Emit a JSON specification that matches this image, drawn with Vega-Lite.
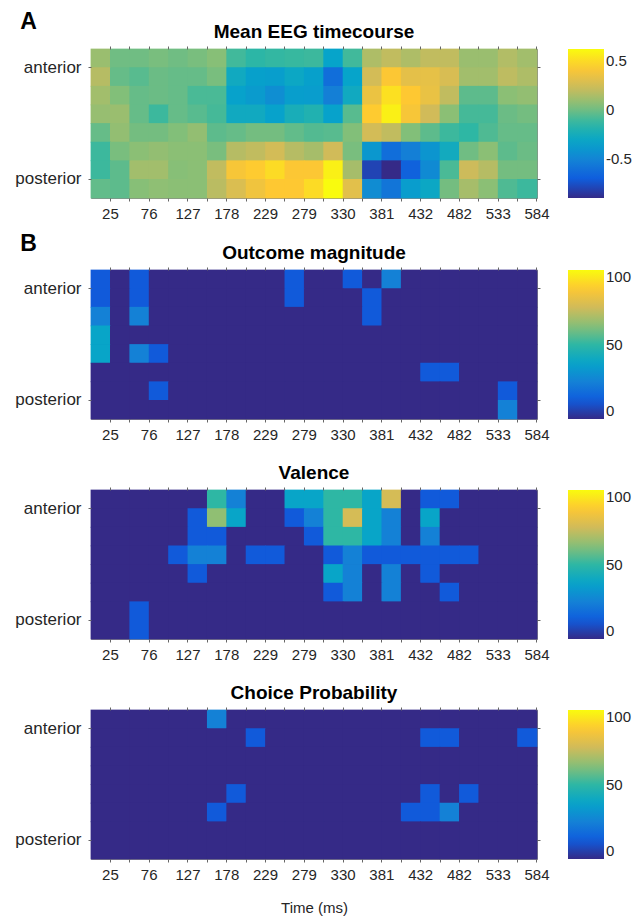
{
"$schema": "https://vega.github.io/schema/vega-lite/v6.json",
"padding": {"left": 14, "top": 11, "right": 5, "bottom": 2},
"config": {
  "font": "Liberation Sans",
  "view": {"stroke": "#8a8a8a", "strokeWidth": 1},
  "axis": {"domain": false, "tickColor": "#666666", "tickSize": 3, "labelFontSize": 15, "labelColor": "#262626", "labelPadding": 5, "labelOverlap": false, "titleFontSize": 15, "titleFontWeight": "normal", "titleColor": "#262626"},
  "axisX": {"labelOffset": 9.7},
  "axisY": {"labelFontSize": 17, "labelPadding": 7, "labelOffset": 9.3},
  "title": {"fontSize": 19, "fontWeight": "bold", "color": "#000000", "offset": 4},
  "legend": {"gradientLength": 149, "gradientThickness": 36, "labelFontSize": 15, "labelColor": "#262626", "gradientStrokeColor": "#8a8a8a", "offset": 27, "labelOffset": 6}
},
"datasets": {"cells": [
{"r":1,"t":25,"a":0.10,"om":12,"va":0,"cp":0},{"r":1,"t":50,"a":0.00,"om":0,"va":0,"cp":0},{"r":1,"t":76,"a":0.00,"om":12,"va":0,"cp":0},{"r":1,"t":101,"a":0.02,"om":0,"va":0,"cp":0},{"r":1,"t":127,"a":0.00,"om":0,"va":0,"cp":0},{"r":1,"t":152,"a":0.02,"om":0,"va":0,"cp":0},{"r":1,"t":178,"a":0.05,"om":0,"va":50,"cp":25},{"r":1,"t":203,"a":-0.10,"om":0,"va":25,"cp":0},{"r":1,"t":229,"a":-0.15,"om":0,"va":0,"cp":0},{"r":1,"t":254,"a":-0.13,"om":0,"va":0,"cp":0},{"r":1,"t":279,"a":-0.12,"om":12,"va":38,"cp":0},{"r":1,"t":305,"a":-0.11,"om":0,"va":38,"cp":0},{"r":1,"t":330,"a":-0.33,"om":0,"va":50,"cp":0},{"r":1,"t":355,"a":-0.10,"om":12,"va":50,"cp":0},{"r":1,"t":381,"a":0.15,"om":0,"va":38,"cp":0},{"r":1,"t":406,"a":0.20,"om":25,"va":76,"cp":0},{"r":1,"t":432,"a":0.15,"om":0,"va":0,"cp":0},{"r":1,"t":457,"a":0.20,"om":0,"va":12,"cp":0},{"r":1,"t":482,"a":0.20,"om":0,"va":12,"cp":0},{"r":1,"t":508,"a":0.10,"om":0,"va":0,"cp":0},{"r":1,"t":533,"a":0.10,"om":0,"va":0,"cp":0},{"r":1,"t":559,"a":0.16,"om":0,"va":0,"cp":0},{"r":1,"t":584,"a":0.12,"om":0,"va":0,"cp":0},
{"r":2,"t":25,"a":0.17,"om":12,"va":0,"cp":0},{"r":2,"t":50,"a":-0.02,"om":0,"va":0,"cp":0},{"r":2,"t":76,"a":-0.05,"om":12,"va":0,"cp":0},{"r":2,"t":101,"a":-0.01,"om":0,"va":0,"cp":0},{"r":2,"t":127,"a":-0.02,"om":0,"va":0,"cp":0},{"r":2,"t":152,"a":-0.02,"om":0,"va":12,"cp":0},{"r":2,"t":178,"a":0.02,"om":0,"va":64,"cp":0},{"r":2,"t":203,"a":-0.28,"om":0,"va":38,"cp":0},{"r":2,"t":229,"a":-0.35,"om":0,"va":0,"cp":12},{"r":2,"t":254,"a":-0.36,"om":0,"va":0,"cp":0},{"r":2,"t":279,"a":-0.30,"om":12,"va":12,"cp":0},{"r":2,"t":305,"a":-0.35,"om":0,"va":25,"cp":0},{"r":2,"t":330,"a":-0.62,"om":0,"va":50,"cp":0},{"r":2,"t":355,"a":-0.33,"om":0,"va":76,"cp":0},{"r":2,"t":381,"a":0.25,"om":12,"va":38,"cp":0},{"r":2,"t":406,"a":0.42,"om":0,"va":25,"cp":0},{"r":2,"t":432,"a":0.32,"om":0,"va":0,"cp":0},{"r":2,"t":457,"a":0.33,"om":0,"va":38,"cp":12},{"r":2,"t":482,"a":0.27,"om":0,"va":0,"cp":12},{"r":2,"t":508,"a":0.12,"om":0,"va":0,"cp":0},{"r":2,"t":533,"a":0.12,"om":0,"va":0,"cp":0},{"r":2,"t":559,"a":0.19,"om":0,"va":0,"cp":0},{"r":2,"t":584,"a":0.15,"om":0,"va":0,"cp":12},
{"r":3,"t":25,"a":0.12,"om":25,"va":0,"cp":0},{"r":3,"t":50,"a":0.04,"om":0,"va":0,"cp":0},{"r":3,"t":76,"a":-0.02,"om":25,"va":0,"cp":0},{"r":3,"t":101,"a":-0.01,"om":0,"va":0,"cp":0},{"r":3,"t":127,"a":-0.02,"om":0,"va":0,"cp":0},{"r":3,"t":152,"a":-0.08,"om":0,"va":12,"cp":0},{"r":3,"t":178,"a":-0.08,"om":0,"va":12,"cp":0},{"r":3,"t":203,"a":-0.34,"om":0,"va":0,"cp":0},{"r":3,"t":229,"a":-0.38,"om":0,"va":0,"cp":0},{"r":3,"t":254,"a":-0.45,"om":0,"va":0,"cp":0},{"r":3,"t":279,"a":-0.36,"om":0,"va":0,"cp":0},{"r":3,"t":305,"a":-0.37,"om":0,"va":12,"cp":0},{"r":3,"t":330,"a":-0.53,"om":0,"va":50,"cp":0},{"r":3,"t":355,"a":-0.28,"om":0,"va":50,"cp":0},{"r":3,"t":381,"a":0.35,"om":12,"va":38,"cp":0},{"r":3,"t":406,"a":0.52,"om":0,"va":25,"cp":0},{"r":3,"t":432,"a":0.43,"om":0,"va":0,"cp":0},{"r":3,"t":457,"a":0.34,"om":0,"va":25,"cp":0},{"r":3,"t":482,"a":0.20,"om":0,"va":0,"cp":0},{"r":3,"t":508,"a":-0.04,"om":0,"va":0,"cp":0},{"r":3,"t":533,"a":-0.04,"om":0,"va":0,"cp":0},{"r":3,"t":559,"a":0.06,"om":0,"va":0,"cp":0},{"r":3,"t":584,"a":0.08,"om":0,"va":0,"cp":0},
{"r":4,"t":25,"a":0.09,"om":38,"va":0,"cp":0},{"r":4,"t":50,"a":0.10,"om":0,"va":0,"cp":0},{"r":4,"t":76,"a":-0.02,"om":0,"va":0,"cp":0},{"r":4,"t":101,"a":-0.11,"om":0,"va":0,"cp":0},{"r":4,"t":127,"a":-0.02,"om":0,"va":12,"cp":0},{"r":4,"t":152,"a":-0.05,"om":0,"va":25,"cp":0},{"r":4,"t":178,"a":-0.09,"om":0,"va":25,"cp":0},{"r":4,"t":203,"a":-0.28,"om":0,"va":0,"cp":0},{"r":4,"t":229,"a":-0.28,"om":0,"va":12,"cp":0},{"r":4,"t":254,"a":-0.34,"om":0,"va":12,"cp":0},{"r":4,"t":279,"a":-0.24,"om":0,"va":0,"cp":0},{"r":4,"t":305,"a":-0.20,"om":0,"va":0,"cp":0},{"r":4,"t":330,"a":-0.34,"om":0,"va":12,"cp":0},{"r":4,"t":355,"a":-0.05,"om":0,"va":25,"cp":0},{"r":4,"t":381,"a":0.44,"om":0,"va":12,"cp":0},{"r":4,"t":406,"a":0.58,"om":0,"va":12,"cp":0},{"r":4,"t":432,"a":0.40,"om":0,"va":12,"cp":0},{"r":4,"t":457,"a":0.24,"om":0,"va":12,"cp":0},{"r":4,"t":482,"a":0.06,"om":0,"va":12,"cp":0},{"r":4,"t":508,"a":-0.09,"om":0,"va":12,"cp":0},{"r":4,"t":533,"a":-0.09,"om":0,"va":0,"cp":0},{"r":4,"t":559,"a":-0.01,"om":0,"va":0,"cp":0},{"r":4,"t":584,"a":0.01,"om":0,"va":0,"cp":0},
{"r":5,"t":25,"a":-0.02,"om":38,"va":0,"cp":0},{"r":5,"t":50,"a":0.08,"om":0,"va":0,"cp":0},{"r":5,"t":76,"a":0.01,"om":25,"va":0,"cp":0},{"r":5,"t":101,"a":0.01,"om":12,"va":0,"cp":0},{"r":5,"t":127,"a":0.04,"om":0,"va":0,"cp":0},{"r":5,"t":152,"a":0.08,"om":0,"va":12,"cp":0},{"r":5,"t":178,"a":-0.04,"om":0,"va":0,"cp":0},{"r":5,"t":203,"a":-0.02,"om":0,"va":0,"cp":12},{"r":5,"t":229,"a":0.01,"om":0,"va":0,"cp":0},{"r":5,"t":254,"a":0.01,"om":0,"va":0,"cp":0},{"r":5,"t":279,"a":-0.03,"om":0,"va":0,"cp":0},{"r":5,"t":305,"a":-0.06,"om":0,"va":0,"cp":0},{"r":5,"t":330,"a":-0.05,"om":0,"va":38,"cp":0},{"r":5,"t":355,"a":0.04,"om":0,"va":25,"cp":0},{"r":5,"t":381,"a":0.25,"om":0,"va":0,"cp":0},{"r":5,"t":406,"a":0.20,"om":0,"va":25,"cp":0},{"r":5,"t":432,"a":0.04,"om":0,"va":0,"cp":0},{"r":5,"t":457,"a":-0.04,"om":0,"va":12,"cp":12},{"r":5,"t":482,"a":-0.11,"om":0,"va":0,"cp":0},{"r":5,"t":508,"a":-0.14,"om":0,"va":0,"cp":12},{"r":5,"t":533,"a":-0.07,"om":0,"va":0,"cp":0},{"r":5,"t":559,"a":-0.02,"om":0,"va":0,"cp":0},{"r":5,"t":584,"a":-0.02,"om":0,"va":0,"cp":0},
{"r":6,"t":25,"a":-0.11,"om":0,"va":0,"cp":0},{"r":6,"t":50,"a":0.02,"om":0,"va":0,"cp":0},{"r":6,"t":76,"a":0.06,"om":0,"va":0,"cp":0},{"r":6,"t":101,"a":0.08,"om":0,"va":0,"cp":0},{"r":6,"t":127,"a":0.06,"om":0,"va":0,"cp":0},{"r":6,"t":152,"a":0.06,"om":0,"va":0,"cp":0},{"r":6,"t":178,"a":0.02,"om":0,"va":0,"cp":12},{"r":6,"t":203,"a":0.17,"om":0,"va":0,"cp":0},{"r":6,"t":229,"a":0.20,"om":0,"va":0,"cp":0},{"r":6,"t":254,"a":0.25,"om":0,"va":0,"cp":0},{"r":6,"t":279,"a":0.17,"om":0,"va":0,"cp":0},{"r":6,"t":305,"a":0.13,"om":0,"va":0,"cp":0},{"r":6,"t":330,"a":0.24,"om":0,"va":12,"cp":0},{"r":6,"t":355,"a":0.02,"om":0,"va":25,"cp":0},{"r":6,"t":381,"a":-0.40,"om":0,"va":0,"cp":0},{"r":6,"t":406,"a":-0.62,"om":0,"va":25,"cp":0},{"r":6,"t":432,"a":-0.53,"om":0,"va":0,"cp":12},{"r":6,"t":457,"a":-0.41,"om":12,"va":0,"cp":12},{"r":6,"t":482,"a":-0.27,"om":12,"va":12,"cp":25},{"r":6,"t":508,"a":0.00,"om":0,"va":0,"cp":0},{"r":6,"t":533,"a":0.06,"om":0,"va":0,"cp":0},{"r":6,"t":559,"a":-0.04,"om":0,"va":0,"cp":0},{"r":6,"t":584,"a":-0.01,"om":0,"va":0,"cp":0},
{"r":7,"t":25,"a":-0.11,"om":0,"va":0,"cp":0},{"r":7,"t":50,"a":-0.04,"om":0,"va":0,"cp":0},{"r":7,"t":76,"a":0.12,"om":0,"va":12,"cp":0},{"r":7,"t":101,"a":0.12,"om":12,"va":0,"cp":0},{"r":7,"t":127,"a":0.05,"om":0,"va":0,"cp":0},{"r":7,"t":152,"a":0.06,"om":0,"va":0,"cp":0},{"r":7,"t":178,"a":0.20,"om":0,"va":0,"cp":0},{"r":7,"t":203,"a":0.40,"om":0,"va":0,"cp":0},{"r":7,"t":229,"a":0.44,"om":0,"va":0,"cp":0},{"r":7,"t":254,"a":0.50,"om":0,"va":0,"cp":0},{"r":7,"t":279,"a":0.42,"om":0,"va":0,"cp":0},{"r":7,"t":305,"a":0.42,"om":0,"va":0,"cp":0},{"r":7,"t":330,"a":0.58,"om":0,"va":0,"cp":0},{"r":7,"t":355,"a":0.13,"om":0,"va":0,"cp":0},{"r":7,"t":381,"a":-0.80,"om":0,"va":0,"cp":0},{"r":7,"t":406,"a":-0.90,"om":0,"va":0,"cp":0},{"r":7,"t":432,"a":-0.68,"om":0,"va":0,"cp":0},{"r":7,"t":457,"a":-0.47,"om":0,"va":0,"cp":0},{"r":7,"t":482,"a":-0.08,"om":0,"va":0,"cp":0},{"r":7,"t":508,"a":0.23,"om":0,"va":0,"cp":0},{"r":7,"t":533,"a":0.17,"om":0,"va":0,"cp":0},{"r":7,"t":559,"a":0.01,"om":12,"va":0,"cp":0},{"r":7,"t":584,"a":0.01,"om":0,"va":0,"cp":0},
{"r":8,"t":25,"a":-0.03,"om":0,"va":0,"cp":0},{"r":8,"t":50,"a":-0.04,"om":0,"va":0,"cp":0},{"r":8,"t":76,"a":0.05,"om":0,"va":12,"cp":0},{"r":8,"t":101,"a":0.07,"om":0,"va":0,"cp":0},{"r":8,"t":127,"a":0.06,"om":0,"va":0,"cp":0},{"r":8,"t":152,"a":0.06,"om":0,"va":0,"cp":0},{"r":8,"t":178,"a":0.18,"om":0,"va":0,"cp":0},{"r":8,"t":203,"a":0.28,"om":0,"va":0,"cp":0},{"r":8,"t":229,"a":0.37,"om":0,"va":0,"cp":0},{"r":8,"t":254,"a":0.43,"om":0,"va":0,"cp":0},{"r":8,"t":279,"a":0.43,"om":0,"va":0,"cp":0},{"r":8,"t":305,"a":0.50,"om":0,"va":0,"cp":0},{"r":8,"t":330,"a":0.62,"om":0,"va":0,"cp":0},{"r":8,"t":355,"a":0.31,"om":0,"va":0,"cp":0},{"r":8,"t":381,"a":-0.46,"om":0,"va":0,"cp":0},{"r":8,"t":406,"a":-0.58,"om":0,"va":0,"cp":0},{"r":8,"t":432,"a":-0.37,"om":0,"va":0,"cp":0},{"r":8,"t":457,"a":-0.30,"om":0,"va":0,"cp":0},{"r":8,"t":482,"a":0.01,"om":0,"va":0,"cp":0},{"r":8,"t":508,"a":0.13,"om":0,"va":0,"cp":0},{"r":8,"t":533,"a":0.06,"om":0,"va":0,"cp":0},{"r":8,"t":559,"a":-0.07,"om":25,"va":0,"cp":0},{"r":8,"t":584,"a":-0.11,"om":0,"va":0,"cp":0}
]},
"data": {"name": "cells"},
"spacing": 11,
"resolve": {"scale": {"color": "independent"}, "legend": {"color": "independent"}},
"vconcat": [
 {"title": {"text": "A", "anchor": "start", "fontSize": 23, "dx": 6, "offset": -12},
  "resolve": {"scale": {"color": "independent"}, "legend": {"color": "independent"}},
  "vconcat": [
  {"width": 446, "height": 149, "title": "Mean EEG timecourse",
   "view": {"fill": "#6cbd84"},
   "resolve": {"axis": {"x": "independent", "y": "independent"}},
   "layer": [
    {"mark": {"type": "rect", "width": {"band": 1.04}, "height": {"band": 1.04}},
     "encoding": {
      "x": {"field": "t", "type": "ordinal", "scale": {"paddingInner": 0, "paddingOuter": 0}, "axis": {"bandPosition": 1, "labelAngle": 0, "title": null, "labelExpr": "indexof([25,76,127,178,229,279,330,381,432,482,533,584], datum.value) >= 0 ? datum.label : ''"}},
      "y": {"field": "r", "type": "ordinal", "scale": {"paddingInner": 0, "paddingOuter": 0}, "axis": {"values": [1, 7], "bandPosition": 1, "title": null, "labelExpr": "datum.value == 1 ? 'anterior' : 'posterior'"}},
      "color": {"field": "a", "type": "quantitative", "scale": {"domain": [-0.9, -0.71, -0.52, -0.33, -0.14, 0.05, 0.24, 0.43, 0.62], "range": ["#352a87", "#0f5cdd", "#1481d6", "#06a4ca", "#2eb7a4", "#87bf77", "#d1bb59", "#fec832", "#f9fb0e"], "interpolate": "rgb"}, "legend": {"title": null, "values": [-0.5, 0, 0.5], "labelExpr": "'' + datum.value"}}
     }},
    {"mark": {"type": "rect", "opacity": 0},
     "encoding": {
      "x": {"field": "t", "type": "ordinal", "axis": {"orient": "top", "bandPosition": 1, "labels": false, "title": null}},
      "y": {"field": "r", "type": "ordinal", "axis": {"orient": "right", "values": [1, 7], "bandPosition": 1, "labels": false, "title": null}}
     }}
   ]}
 ]},
 {"title": {"text": "B", "anchor": "start", "fontSize": 23, "dx": 6, "offset": -13},
  "spacing": 20,
  "resolve": {"scale": {"color": "independent"}, "legend": {"color": "independent"}},
  "vconcat": [
  {"width": 446, "height": 149, "title": "Outcome magnitude",
   "view": {"fill": "#352a87"},
   "resolve": {"axis": {"x": "independent", "y": "independent"}},
   "layer": [
    {"mark": {"type": "rect", "width": {"band": 1.04}, "height": {"band": 1.04}},
     "encoding": {
      "x": {"field": "t", "type": "ordinal", "scale": {"paddingInner": 0, "paddingOuter": 0}, "axis": {"bandPosition": 1, "labelAngle": 0, "title": null, "labelExpr": "indexof([25,76,127,178,229,279,330,381,432,482,533,584], datum.value) >= 0 ? datum.label : ''"}},
      "y": {"field": "r", "type": "ordinal", "scale": {"paddingInner": 0, "paddingOuter": 0}, "axis": {"values": [1, 7], "bandPosition": 1, "title": null, "labelExpr": "datum.value == 1 ? 'anterior' : 'posterior'"}},
      "color": {"field": "om", "type": "quantitative", "scale": {"domain": [0, 12.5, 25, 37.5, 50, 62.5, 75, 87.5, 100], "range": ["#352a87", "#0f5cdd", "#1481d6", "#06a4ca", "#2eb7a4", "#87bf77", "#d1bb59", "#fec832", "#f9fb0e"], "interpolate": "rgb"}, "legend": {"title": null, "values": [0, 50, 100]}}
     }},
    {"mark": {"type": "rect", "opacity": 0},
     "encoding": {
      "x": {"field": "t", "type": "ordinal", "axis": {"orient": "top", "bandPosition": 1, "labels": false, "title": null}},
      "y": {"field": "r", "type": "ordinal", "axis": {"orient": "right", "values": [1, 7], "bandPosition": 1, "labels": false, "title": null}}
     }}
   ]},
  {"width": 446, "height": 149, "title": "Valence",
   "view": {"fill": "#352a87"},
   "resolve": {"axis": {"x": "independent", "y": "independent"}},
   "layer": [
    {"mark": {"type": "rect", "width": {"band": 1.04}, "height": {"band": 1.04}},
     "encoding": {
      "x": {"field": "t", "type": "ordinal", "scale": {"paddingInner": 0, "paddingOuter": 0}, "axis": {"bandPosition": 1, "labelAngle": 0, "title": null, "labelExpr": "indexof([25,76,127,178,229,279,330,381,432,482,533,584], datum.value) >= 0 ? datum.label : ''"}},
      "y": {"field": "r", "type": "ordinal", "scale": {"paddingInner": 0, "paddingOuter": 0}, "axis": {"values": [1, 7], "bandPosition": 1, "title": null, "labelExpr": "datum.value == 1 ? 'anterior' : 'posterior'"}},
      "color": {"field": "va", "type": "quantitative", "scale": {"domain": [0, 12.5, 25, 37.5, 50, 62.5, 75, 87.5, 100], "range": ["#352a87", "#0f5cdd", "#1481d6", "#06a4ca", "#2eb7a4", "#87bf77", "#d1bb59", "#fec832", "#f9fb0e"], "interpolate": "rgb"}, "legend": {"title": null, "values": [0, 50, 100]}}
     }},
    {"mark": {"type": "rect", "opacity": 0},
     "encoding": {
      "x": {"field": "t", "type": "ordinal", "axis": {"orient": "top", "bandPosition": 1, "labels": false, "title": null}},
      "y": {"field": "r", "type": "ordinal", "axis": {"orient": "right", "values": [1, 7], "bandPosition": 1, "labels": false, "title": null}}
     }}
   ]},
  {"width": 446, "height": 149, "title": "Choice Probability",
   "view": {"fill": "#352a87"},
   "resolve": {"axis": {"x": "independent", "y": "independent"}},
   "layer": [
    {"mark": {"type": "rect", "width": {"band": 1.04}, "height": {"band": 1.04}},
     "encoding": {
      "x": {"field": "t", "type": "ordinal", "scale": {"paddingInner": 0, "paddingOuter": 0}, "axis": {"bandPosition": 1, "labelAngle": 0, "title": "Time (ms)", "titlePadding": 18, "labelExpr": "indexof([25,76,127,178,229,279,330,381,432,482,533,584], datum.value) >= 0 ? datum.label : ''"}},
      "y": {"field": "r", "type": "ordinal", "scale": {"paddingInner": 0, "paddingOuter": 0}, "axis": {"values": [1, 7], "bandPosition": 1, "title": null, "labelExpr": "datum.value == 1 ? 'anterior' : 'posterior'"}},
      "color": {"field": "cp", "type": "quantitative", "scale": {"domain": [0, 12.5, 25, 37.5, 50, 62.5, 75, 87.5, 100], "range": ["#352a87", "#0f5cdd", "#1481d6", "#06a4ca", "#2eb7a4", "#87bf77", "#d1bb59", "#fec832", "#f9fb0e"], "interpolate": "rgb"}, "legend": {"title": null, "values": [0, 50, 100]}}
     }},
    {"mark": {"type": "rect", "opacity": 0},
     "encoding": {
      "x": {"field": "t", "type": "ordinal", "axis": {"orient": "top", "bandPosition": 1, "labels": false, "title": null}},
      "y": {"field": "r", "type": "ordinal", "axis": {"orient": "right", "values": [1, 7], "bandPosition": 1, "labels": false, "title": null}}
     }}
   ]}
 ]}
]
}
